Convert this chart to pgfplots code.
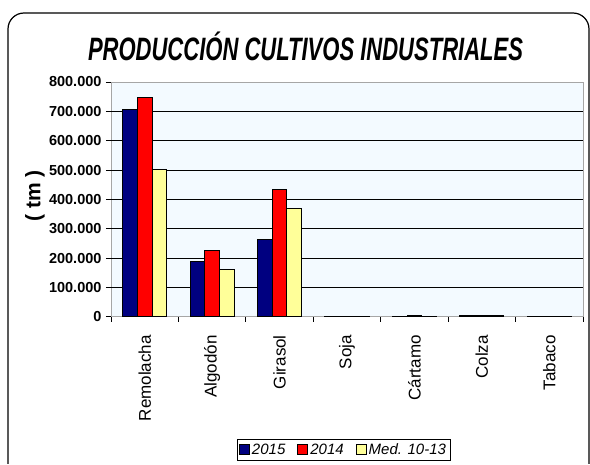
\documentclass[border=0pt]{standalone}
\usepackage{fontspec}
\setmainfont{Liberation Sans}
\usepackage{graphicx}
\usepackage{pgfplots}
\pgfplotsset{compat=1.18}
\definecolor{c15}{RGB}{0,0,128}
\definecolor{c14}{RGB}{255,0,0}
\definecolor{cmed}{RGB}{255,255,153}
\definecolor{bg}{RGB}{243,250,255}

\begin{document}
\begin{tikzpicture}[x=1pt,y=1pt]
\useasboundingbox (0,0) rectangle (590,464);
\begin{scope}
\clip (0,0) rectangle (590,464);
\draw[line width=1.2pt, rounded corners=16pt] (8,-30) rectangle (589,451);
\end{scope}

\node at (305.5,418) {\resizebox{435pt}{!}{\scalebox{0.68}[1]{\fontsize{28}{28}\selectfont\bfseries\itshape PRODUCCIÓN CULTIVOS INDUSTRIALES}}};

\begin{axis}[
    at={(111pt,147.3pt)}, anchor=south west,
    scale only axis, width=472pt, height=234.7pt,
    ybar=0pt, bar width=0.218,
    xmin=-0.5, xmax=6.5, ymin=0, ymax=800000,
    xtick={0,...,6},
    xticklabels={Remolacha,Algodón,Girasol,Soja,Cártamo,Colza,Tabaco},
    x tick label style={rotate=90, anchor=east, font=\fontsize{17}{17}\selectfont, xshift=-10pt},
    major x tick style={draw=none},
    minor xtick={-0.5,0.5,...,6.5},
    minor tick length=5pt, major tick length=5pt,
    tick align=outside,
    xtick pos=bottom, ytick pos=left,
    ytick={0,100000,...,800000},
    yticklabels={0,100.000,200.000,300.000,400.000,500.000,600.000,700.000,800.000},
    y tick label style={font=\fontsize{14.5}{14.5}\selectfont\bfseries, xshift=-1pt},
    scaled y ticks=false,
    tick style={black, line width=0.8pt},
    extra y ticks={100000,200000,300000,400000,500000,600000,700000},
    extra y tick labels={},
    extra y tick style={grid=major, major tick length=0pt},
    grid style={black, line width=0.8pt},
    axis background/.style={fill=bg},
    axis line style={gray!70, line width=0.8pt},
    legend columns=3,
    legend style={at={(axis description cs:0.4926,-0.566)}, anchor=center, draw=black,
        font=\fontsize{15}{15}\selectfont\itshape, inner sep=2pt,
        /tikz/every even column/.append style={column sep=10pt}},
    legend image code/.code={\draw[#1] (0pt,-5pt) rectangle (10pt,5pt);},
]
\addplot[fill=c15, draw=black, line width=1pt] coordinates {
    (0,707000) (1,187500) (2,264000) (3,300) (4,2000) (5,5000) (6,2000)};
\addplot[fill=c14, draw=black, line width=1pt] coordinates {
    (0,748000) (1,226000) (2,434000) (3,300) (4,2500) (5,2500) (6,2000)};
\addplot[fill=cmed, draw=black, line width=1pt] coordinates {
    (0,501000) (1,161500) (2,369500) (3,300) (4,2000) (5,2500) (6,2200)};
\legend{2015,2014,Med. 10-13}
\end{axis}

\node[rotate=90, font=\fontsize{21}{21}\selectfont\bfseries] at (35,268) {( tm )};
\end{tikzpicture}
\end{document}
